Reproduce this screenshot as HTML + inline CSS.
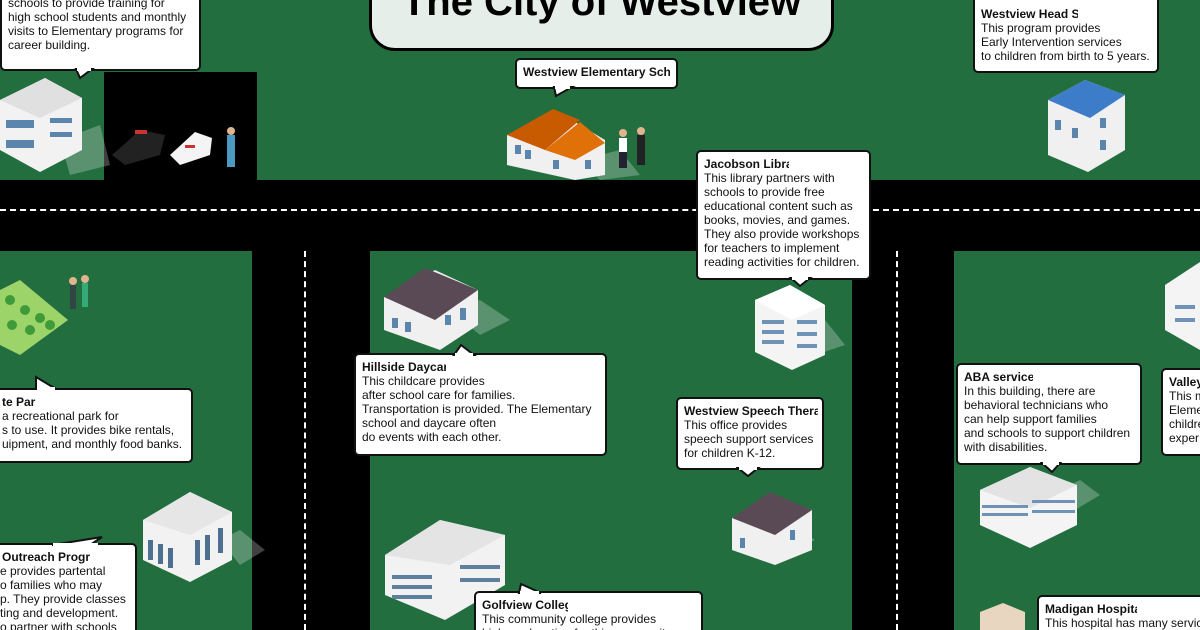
<!DOCTYPE html>
<html style="overflow:hidden;height:630px"><head><meta charset="utf-8"><style>
*{margin:0;padding:0;box-sizing:border-box}
html,body{width:1200px;height:630px;overflow:hidden}
body{background:#236e3f;position:relative;font-family:"Liberation Sans",sans-serif;}
.abs{position:absolute}
.road{position:absolute;background:#000}
.co{position:absolute;background:#fff;border:2px solid #111;border-radius:5px;font-size:12px;line-height:14px;color:#111;padding:5px 6px;overflow:hidden}
.co b{display:block;white-space:nowrap;overflow:hidden}
.co .t{overflow:hidden;white-space:nowrap}
.dl{position:absolute;border-color:#fff;border-style:dashed}
</style></head><body>
<div class="road" style="left:0;top:180px;width:1200px;height:71px"></div>
<div class="dl" style="left:0;top:209px;width:1200px;border-width:2px 0 0 0"></div>
<div class="road" style="left:252px;top:251px;width:118px;height:379px"></div>
<div class="dl" style="left:304px;top:251px;height:379px;border-width:0 0 0 2px"></div>
<div class="road" style="left:852px;top:251px;width:102px;height:379px"></div>
<div class="dl" style="left:896px;top:251px;height:379px;border-width:0 0 0 2px"></div>
<div class="road" style="left:104px;top:72px;width:153px;height:110px"></div>

<div class="abs" style="left:369px;top:-30px;width:465px;height:81px;background:#e6eeea;border:3px solid #000;border-radius:26px"></div>
<div class="abs" style="left:369px;top:-18px;width:465px;text-align:center;font-size:40px;font-weight:bold;color:#000;line-height:40px">The City of Westview</div>

<svg class="abs" style="left:0;top:0" width="1200" height="630">
<g opacity="0.25" fill="#fff">
<polygon points="60,140 100,125 110,165 70,175"/>
<polygon points="580,160 620,150 640,175 600,180"/>
<polygon points="450,310 480,300 510,320 480,335"/>
<polygon points="800,330 825,320 845,345 815,355"/>
<polygon points="220,540 240,530 265,550 240,565"/>
<polygon points="780,540 800,530 815,540 790,550"/>
<polygon points="1060,490 1080,480 1100,495 1075,510"/>
</g>
<polygon points="0,100 45,78 82,98 82,150 40,172 0,150" fill="#f2f2f2"/>
<polygon points="0,100 45,78 82,98 40,118" fill="#e0e0e0"/>
<rect x="6" y="120" width="28" height="8" fill="#5a86ad"/><rect x="6" y="140" width="28" height="8" fill="#5a86ad"/>
<rect x="50" y="118" width="22" height="5" fill="#5a86ad"/><rect x="50" y="132" width="22" height="5" fill="#5a86ad"/>
<polygon points="112,155 140,130 165,135 160,155 125,165" fill="#222"/><rect x="135" y="130" width="12" height="4" fill="#c33"/>
<polygon points="170,155 195,132 212,138 210,155 180,165" fill="#f4f4f4"/><rect x="185" y="145" width="10" height="3" fill="#c33"/>
<rect x="227" y="135" width="8" height="32" fill="#4a9ac2"/><circle cx="231" cy="131" r="4" fill="#e0b48f"/>
<polygon points="507,135 555,110 605,140 605,175 575,180 507,165" fill="#f0f0f0"/>
<polygon points="507,135 553,109 580,120 545,150" fill="#c85a00"/>
<polygon points="545,150 580,122 605,143 575,160" fill="#e07008"/>
<rect x="515" y="145" width="6" height="9" fill="#5a86ad"/><rect x="525" y="150" width="6" height="9" fill="#5a86ad"/><rect x="553" y="160" width="6" height="9" fill="#5a86ad"/><rect x="585" y="160" width="6" height="9" fill="#5a86ad"/>
<rect x="619" y="138" width="8" height="30" fill="#223"/><rect x="619" y="138" width="8" height="14" fill="#fff"/><circle cx="623" cy="133" r="4" fill="#e0b48f"/>
<rect x="637" y="135" width="8" height="30" fill="#222"/><circle cx="641" cy="131" r="4" fill="#e0b48f"/>
<polygon points="1048,100 1085,80 1125,95 1125,150 1088,172 1048,155" fill="#f0f0f0"/>
<polygon points="1048,100 1085,80 1125,95 1090,118" fill="#3d7cc9"/>
<rect x="1055" y="120" width="6" height="10" fill="#5a86ad"/><rect x="1072" y="128" width="6" height="10" fill="#5a86ad"/><rect x="1100" y="118" width="6" height="10" fill="#5a86ad"/><rect x="1100" y="140" width="6" height="10" fill="#5a86ad"/>
<polygon points="0,290 20,280 68,320 20,355 0,345" fill="#9dd46a"/>
<g fill="#3f9a3a"><circle cx="10" cy="300" r="5"/><circle cx="25" cy="310" r="5"/><circle cx="40" cy="318" r="5"/><circle cx="12" cy="325" r="5"/><circle cx="30" cy="330" r="5"/><circle cx="50" cy="325" r="5"/></g>
<rect x="70" y="285" width="6" height="24" fill="#344"/><rect x="82" y="283" width="6" height="24" fill="#3a7"/><circle cx="73" cy="281" r="4" fill="#e0b48f"/><circle cx="85" cy="279" r="4" fill="#e0b48f"/>
<polygon points="384,297 435,270 478,290 478,325 440,350 384,330" fill="#f0f0f0"/>
<polygon points="384,297 425,268 478,290 435,320" fill="#5a4a55"/>
<rect x="392" y="318" width="6" height="10" fill="#5a86ad"/><rect x="405" y="322" width="6" height="10" fill="#5a86ad"/><rect x="445" y="315" width="6" height="10" fill="#5a86ad"/><rect x="460" y="308" width="6" height="12" fill="#5a86ad"/>
<polygon points="755,300 790,285 825,305 825,355 792,370 755,352" fill="#f4f4f4"/>
<polygon points="755,300 790,285 825,305 792,320" fill="#fff"/>
<g fill="#6f93b6"><rect x="762" y="320" width="22" height="4"/><rect x="762" y="330" width="22" height="4"/><rect x="762" y="340" width="22" height="4"/><rect x="797" y="320" width="20" height="4"/><rect x="797" y="332" width="20" height="4"/><rect x="797" y="344" width="20" height="4"/></g>
<polygon points="1165,285 1200,262 1200,350 1165,330" fill="#f4f4f4"/><rect x="1175" y="305" width="20" height="4" fill="#6f93b6"/><rect x="1175" y="318" width="20" height="4" fill="#6f93b6"/>
<polygon points="143,520 190,492 232,512 232,560 190,582 143,560" fill="#f2f2f2"/>
<polygon points="143,520 190,492 232,512 190,535" fill="#e6e6e6"/>
<g fill="#4d6f90"><rect x="148" y="540" width="5" height="20"/><rect x="158" y="544" width="5" height="20"/><rect x="168" y="548" width="5" height="20"/><rect x="195" y="540" width="5" height="25"/><rect x="205" y="535" width="5" height="25"/><rect x="218" y="528" width="5" height="25"/></g>
<polygon points="385,555 440,520 505,535 505,585 445,620 385,595" fill="#f2f2f2"/>
<polygon points="385,555 440,520 505,535 450,565" fill="#e4e4e4"/>
<g fill="#5f7f9f"><rect x="392" y="575" width="40" height="4"/><rect x="392" y="585" width="40" height="4"/><rect x="392" y="595" width="40" height="4"/><rect x="460" y="565" width="40" height="4"/><rect x="460" y="578" width="40" height="4"/></g>
<polygon points="732,518 772,494 812,510 812,550 775,565 732,550" fill="#f0f0f0"/>
<polygon points="732,518 770,492 812,510 775,535" fill="#5a4a55"/>
<rect x="740" y="538" width="5" height="10" fill="#5a86ad"/><rect x="790" y="530" width="5" height="10" fill="#5a86ad"/>
<polygon points="980,490 1030,467 1077,485 1077,525 1030,548 980,525" fill="#f4f4f4"/>
<polygon points="980,490 1030,467 1077,485 1030,508" fill="#e3e3e3"/>
<g fill="#6f93b6"><rect x="982" y="505" width="46" height="3"/><rect x="982" y="513" width="46" height="3"/><rect x="1032" y="500" width="43" height="3"/><rect x="1032" y="510" width="43" height="3"/></g>
<polygon points="980,612 1003,603 1025,612 1025,630 980,630" fill="#e8d6c0"/>
</svg>

<div class="co" style="left:0;top:-14px;width:201px;height:85px;padding-top:8px"><div class="t">schools to provide training for</div><div class="t">high school students and monthly</div><div class="t">visits to Elementary programs for</div><div class="t">career building.</div></div>
<svg class="abs" style="left:74px;top:68px" width="22" height="12"><polygon points="2,1 18,1 6,10" fill="#fff" stroke="#111" stroke-width="2"/><rect x="3" y="0" width="14" height="3" fill="#fff"/></svg>

<div class="co" style="left:515px;top:58px;width:163px;height:31px"><b>Westview Elementary Sch</b></div>
<svg class="abs" style="left:550px;top:86px" width="26" height="12"><polygon points="4,1 22,1 6,10" fill="#fff" stroke="#111" stroke-width="2"/><rect x="5" y="0" width="15" height="3" fill="#fff"/></svg>

<div class="co" style="left:696px;top:150px;width:175px;height:130px"><b style="width:85px">Jacobson Library</b><div>This library partners with</div><div>schools to provide free</div><div>educational content such as</div><div>books, movies, and games.</div><div>They also provide workshops</div><div>for teachers to implement</div><div>reading activities for children.</div></div>
<svg class="abs" style="left:788px;top:277px" width="26" height="12"><polygon points="3,1 22,1 12,9" fill="#fff" stroke="#111" stroke-width="2"/><rect x="4" y="0" width="16" height="3" fill="#fff"/></svg>

<div class="co" style="left:973px;top:-6px;width:186px;height:79px;padding-top:11px"><b style="width:97px">Westview Head Start</b><div>This program provides</div><div>Early Intervention services</div><div>to children from birth to 5 years.</div></div>

<div class="co" style="left:354px;top:353px;width:253px;height:103px"><b style="width:84px">Hillside Daycare</b><div>This childcare provides</div><div>after school care for families.</div><div>Transportation is provided. The Elementary</div><div>school and daycare often</div><div>do events with each other.</div></div>
<svg class="abs" style="left:452px;top:343px" width="26" height="13"><polygon points="9,2 22,12 2,12" fill="#fff" stroke="#111" stroke-width="2"/><rect x="3" y="10" width="18" height="4" fill="#fff"/></svg>

<div class="co" style="left:676px;top:397px;width:148px;height:73px"><b style="width:134px">Westview Speech Therapy</b><div>This office provides</div><div>speech support services</div><div>for children K-12.</div></div>
<svg class="abs" style="left:736px;top:467px" width="26" height="12"><polygon points="2,1 22,1 12,9" fill="#fff" stroke="#111" stroke-width="2"/><rect x="3" y="0" width="18" height="3" fill="#fff"/></svg>

<div class="co" style="left:956px;top:363px;width:186px;height:102px"><b style="width:69px">ABA services</b><div>In this building, there are</div><div>behavioral technicians who</div><div>can help support families</div><div>and schools to support children</div><div>with disabilities.</div></div>
<svg class="abs" style="left:1040px;top:462px" width="26" height="12"><polygon points="2,1 20,1 12,10" fill="#fff" stroke="#111" stroke-width="2"/><rect x="3" y="0" width="16" height="3" fill="#fff"/></svg>

<div class="co" style="left:1161px;top:368px;width:60px;height:88px;white-space:nowrap"><b>Valley</b><div>This m</div><div>Eleme</div><div>childre</div><div>exper</div></div>

<div class="co" style="left:-12px;top:388px;width:205px;height:75px;white-space:nowrap;padding-left:12px"><b>te Par</b><div>a recreational park for</div><div>s to use. It provides bike rentals,</div><div>uipment, and monthly food banks.</div></div>
<svg class="abs" style="left:30px;top:375px" width="30" height="16"><polygon points="6,2 26,14 6,14" fill="#fff" stroke="#111" stroke-width="2"/><rect x="7" y="12" width="18" height="5" fill="#fff"/></svg>

<div class="co" style="left:-12px;top:543px;width:149px;height:100px;white-space:nowrap;padding-left:10px"><b style="margin-left:2px">Outreach Progr</b><div>e provides partental</div><div>o families who may</div><div>p. They provide classes</div><div>ting and development.</div><div>o partner with schools</div></div>
<svg class="abs" style="left:50px;top:535px" width="55" height="12"><polygon points="2,10 52,2 40,10" fill="#fff" stroke="#111" stroke-width="2"/><rect x="3" y="8" width="45" height="5" fill="#fff"/></svg>

<div class="co" style="left:474px;top:591px;width:229px;height:55px"><b style="width:86px">Golfview College</b><div>This community college provides</div><div>higher education for this community</div></div>
<svg class="abs" style="left:515px;top:582px" width="30" height="13"><polygon points="6,2 26,11 4,11" fill="#fff" stroke="#111" stroke-width="2"/><rect x="5" y="9" width="19" height="5" fill="#fff"/></svg>

<div class="co" style="left:1037px;top:595px;width:180px;height:50px"><b style="width:92px">Madigan Hospital</b><div style="white-space:nowrap">This hospital has many services</div></div>
</body></html>
